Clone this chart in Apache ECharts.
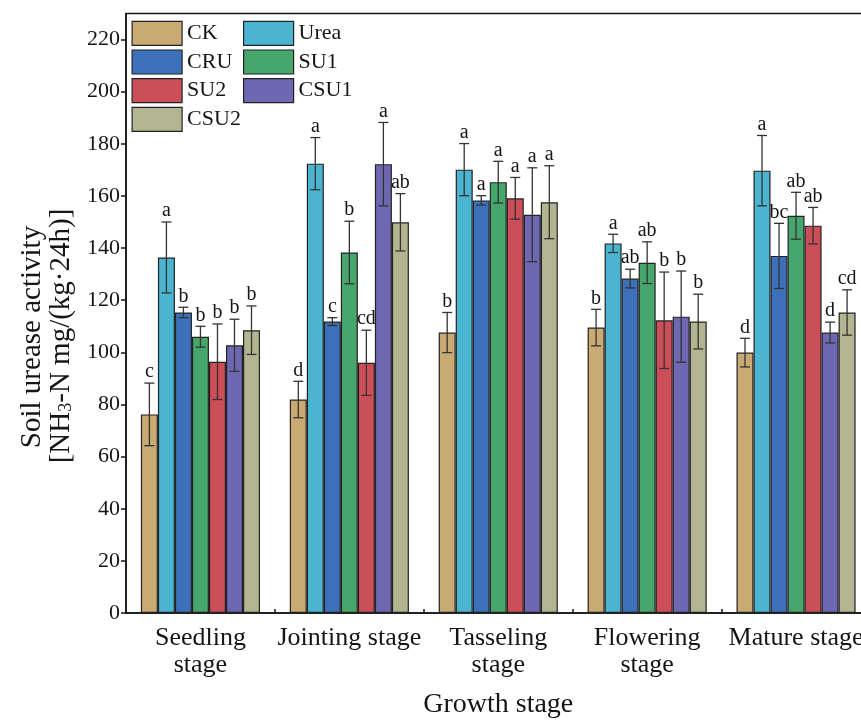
<!DOCTYPE html>
<html>
<head>
<meta charset="utf-8">
<script src="https://cdn.jsdelivr.net/npm/echarts@6/dist/echarts.min.js"></script>
<style>
  html, body { margin: 0; padding: 0; background: #fff; }
  #chart { width: 861px; height: 721px; }
</style>
</head>
<body>
<div id="chart"></div>
<script>
// Growth stages on the category axis
const stages = ['Seedling\nstage', 'Jointing stage', 'Tasseling\nstage', 'Flowering\nstage', 'Mature stage'];
const treatments = ['CK', 'Urea', 'CRU', 'SU1', 'SU2', 'CSU1', 'CSU2'];
const yTicks = [0, 20, 40, 60, 80, 100, 120, 140, 160, 180, 200, 220];

// Mean urease activity, error and significance letters per treatment
const ckMean   = [76.2, 81.9, 107.6, 109.5, 99.9];
const ckErr    = [12.0, 7.0, 7.7, 7.0, 5.5];
const ckSig    = ['c', 'd', 'b', 'b', 'd'];

const ureaMean = [136.4, 172.4, 170.1, 141.8, 169.7];
const ureaErr  = [13.6, 10.0, 10.0, 3.5, 13.5];
const ureaSig  = ['a', 'a', 'a', 'a', 'a'];

const cruMean  = [115.3, 111.8, 158.3, 128.3, 137.0];
const cruErr   = [2.0, 1.5, 1.8, 3.6, 12.5];
const cruSig   = ['b', 'c', 'a', 'ab', 'bc'];

const su1Mean  = [106.0, 138.3, 165.3, 134.4, 152.4];
const su1Err   = [4.0, 12.0, 8.0, 8.0, 9.0];
const su1Sig   = ['b', 'b', 'a', 'ab', 'ab'];

const su2Mean  = [96.4, 96.0, 159.1, 112.3, 148.6];
const su2Err   = [14.5, 12.5, 8.0, 18.5, 7.0];
const su2Sig   = ['b', 'cd', 'a', 'b', 'ab'];

const csu1Mean = [102.7, 172.2, 152.8, 113.7, 107.6];
const csu1Err  = [10.0, 16.0, 18.0, 17.5, 4.0];
const csu1Sig  = ['b', 'a', 'a', 'b', 'd'];

const csu2Mean = [108.5, 149.9, 157.6, 111.8, 115.3];
const csu2Err  = [9.3, 11.0, 14.0, 10.5, 8.7];
const csu2Sig  = ['b', 'ab', 'a', 'b', 'cd'];

const colors = ['#c8aa72', '#4bb4d0', '#3c70b9', '#47a66c', '#cc4e58', '#6e67b1', '#b2b58f'];

const means = [ckMean, ureaMean, cruMean, su1Mean, su2Mean, csu1Mean, csu2Mean];
const errs  = [ckErr, ureaErr, cruErr, su1Err, su2Err, csu1Err, csu2Err];
const sigs  = [ckSig, ureaSig, cruSig, su1Sig, su2Sig, csu1Sig, csu2Sig];

const FONT = '"Liberation Serif", "Times New Roman", serif';
const INK = '#151515';
const BAR_FRACTION = 0.8; // 1 - barCategoryGap

const barSeries = treatments.map((name, k) => ({
  name: name,
  type: 'bar',
  data: means[k],
  barGap: '0%',
  barCategoryGap: '20%',
  itemStyle: { color: colors[k], borderColor: '#222', borderWidth: 1.2 },
  z: 2
}));

// Error bars with caps plus significance letter above each bar
const errSeries = treatments.map((name, k) => ({
  name: name + ' error',
  type: 'custom',
  coordinateSystem: 'cartesian2d',
  xAxisIndex: 0,
  yAxisIndex: 0,
  z: 5,
  data: means[k].map((m, j) => [j, m, errs[k][j]]),
  encode: { x: 0, y: 1 },
  renderItem: function (params, api) {
    const j = api.value(0), m = api.value(1), e = api.value(2);
    const band = api.size([1, 0])[0];
    const bw = band * BAR_FRACTION / treatments.length;
    const cx = api.coord([j, m])[0] + (k - (treatments.length - 1) / 2) * bw;
    const yHi = api.coord([j, m + e])[1];
    const yLo = api.coord([j, m - e])[1];
    const cap = 5;
    const ls = { stroke: '#333', lineWidth: 1.3 };
    return {
      type: 'group',
      children: [
        { type: 'line', shape: { x1: cx, y1: yHi, x2: cx, y2: yLo }, style: ls },
        { type: 'line', shape: { x1: cx - cap, y1: yHi, x2: cx + cap, y2: yHi }, style: ls },
        { type: 'line', shape: { x1: cx - cap, y1: yLo, x2: cx + cap, y2: yLo }, style: ls },
        { type: 'text', x: cx, y: yHi - 1,
          style: { text: sigs[k][params.dataIndex], fontFamily: FONT, fontSize: 20,
                   fill: INK, align: 'center', verticalAlign: 'bottom' } }
      ]
    };
  }
}));

const legendBase = {
  orient: 'vertical',
  top: 15.7,
  icon: 'rect',
  itemWidth: 50,
  itemHeight: 24,
  itemGap: 3.5,
  selectedMode: false,
  itemStyle: { borderColor: '#222', borderWidth: 1.2 },
  textStyle: { fontFamily: FONT, fontSize: 22, color: INK, lineHeight: 24 }
};

const chart = echarts.init(document.getElementById('chart'), null, { renderer: 'canvas' });
chart.setOption({
  animation: false,
  backgroundColor: '#fff',
  grid: {
    left: 126, top: 13.5, width: 744.5, height: 599.5,
    outerBoundsMode: 'none',
    containLabel: false,
    show: true, borderColor: INK, borderWidth: 1.5, backgroundColor: 'transparent'
  },
  legend: [
    Object.assign({}, legendBase, { left: 126.5, data: ['CK', 'CRU', 'SU2', 'CSU2'] }),
    Object.assign({}, legendBase, { left: 238, data: ['Urea', 'SU1', 'CSU1'] })
  ],
  xAxis: [
    {
      type: 'category',
      data: stages,
      position: 'bottom',
      axisLine: { lineStyle: { color: INK, width: 1.5 } },
      axisTick: { show: false },
      axisLabel: { interval: 0, margin: 12, fontFamily: FONT, fontSize: 26, lineHeight: 27, color: INK },
      name: 'Growth stage',
      nameLocation: 'middle',
      nameGap: 78,
      nameMoveOverlap: false,
      nameTextStyle: { fontFamily: FONT, fontSize: 28, color: INK }
    },
    {
      // tick marks at group centres and group boundaries
      type: 'value',
      min: 0, max: 5, interval: 0.5,
      position: 'bottom',
      axisLine: { show: false },
      axisLabel: { show: false },
      splitLine: { show: false },
      axisTick: { show: true, inside: true, length: 4, lineStyle: { color: INK, width: 1.5 } }
    }
  ],
  yAxis: {
    type: 'value',
    min: 0, max: 230, interval: 20,
    axisLine: { show: true, lineStyle: { color: INK, width: 1.5 } },
    axisTick: { show: true, inside: false, length: 5, customValues: yTicks, lineStyle: { color: INK, width: 1.5 } },
    axisLabel: { margin: 6, fontFamily: FONT, fontSize: 22, color: INK, customValues: yTicks },
    splitLine: { show: false }
  },
  graphic: [
    {
      type: 'text', x: 32, y: 337, rotation: Math.PI / 2,
      style: { text: 'Soil urease activity', fontFamily: FONT, fontSize: 29, fill: INK,
               align: 'center', verticalAlign: 'middle' }
    },
    {
      type: 'text', x: 61, y: 336, rotation: Math.PI / 2,
      style: { text: '[NH{sub|3}-N mg/(kg·24h)]', fontFamily: FONT, fontSize: 29, fill: INK,
               align: 'center', verticalAlign: 'middle',
               rich: { sub: { fontFamily: FONT, fontSize: 18, fill: INK, verticalAlign: 'bottom', padding: [9, 0, 0, 0] } } }
    }
  ],
  series: barSeries.concat(errSeries)
});
</script>
</body>
</html>
